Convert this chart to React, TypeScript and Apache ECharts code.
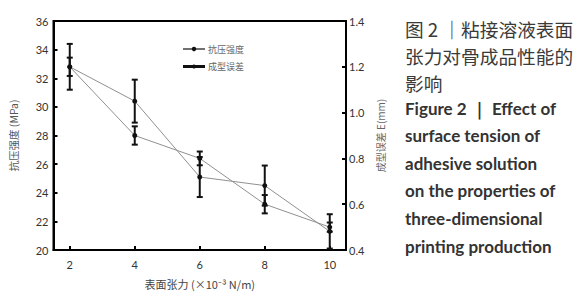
import React, { useEffect, useRef } from "react";
import * as echarts from "echarts";

const xValues = [2, 4, 6, 8, 10];
const xTicks = [2, 4, 6, 8, 10];
const strength = [32.8, 30.4, 25.1, 24.5, 21.3];
const strengthErr = [1.6, 1.5, 1.4, 1.4, 1.2];
const formError = [1.2, 0.9, 0.8, 0.6, 0.5];
const formErrorErr = [0.04, 0.04, 0.03, 0.04, 0.02];
const legendNames = ["抗压强度", "成型误差"];
const captionCn = ["图 2 ｜粘接溶液表面", "张力对骨成品性能的", "影响"];
const captionEn = [
  "Figure 2 ｜ Effect of",
  "surface tension of",
  "adhesive solution",
  "on the properties of",
  "three-dimensional",
  "printing production",
];

const errorRender = (params: any, api: any) => {
  const x = api.value(0);
  const lo = api.value(1);
  const hi = api.value(2);
  const p1 = api.coord([x, hi]);
  const p2 = api.coord([x, lo]);
  const w = 3;
  const st = { stroke: "#111", lineWidth: 2 };
  return {
    type: "group",
    children: [
      { type: "line", shape: { x1: p1[0], y1: p1[1], x2: p2[0], y2: p2[1] }, style: st },
      { type: "line", shape: { x1: p1[0] - w, y1: p1[1], x2: p1[0] + w, y2: p1[1] }, style: st },
      { type: "line", shape: { x1: p2[0] - w, y1: p2[1], x2: p2[0] + w, y2: p2[1] }, style: st },
    ],
  };
};

export default function App() {
  const ref = useRef<HTMLDivElement>(null);
  useEffect(() => {
    const chart = echarts.init(ref.current!, null, { renderer: "svg" });
    const axisFont = "Lato, 'Noto Sans', sans-serif";
    const cnFont = "'Noto Sans CJK SC', sans-serif";
    const graphics: any[] = [];
    // legend
    graphics.push({ type: "line", shape: { x1: 183, y1: 49, x2: 205, y2: 49 }, style: { stroke: "#111", lineWidth: 1.2 } });
    graphics.push({ type: "circle", shape: { cx: 194, cy: 49, r: 2.2 }, style: { fill: "#111" } });
    graphics.push({ type: "text", x: 208, y: 49, style: { text: legendNames[0], font: `9px ${cnFont}`, fill: "#666", verticalAlign: "middle" } });
    graphics.push({ type: "line", shape: { x1: 183, y1: 66.5, x2: 205, y2: 66.5 }, style: { stroke: "#111", lineWidth: 3 } });
    graphics.push({ type: "circle", shape: { cx: 194, cy: 66.5, r: 2 }, style: { fill: "#111" } });
    graphics.push({ type: "text", x: 208, y: 66.5, style: { text: legendNames[1], font: `9px ${cnFont}`, fill: "#666", verticalAlign: "middle" } });
    captionCn.forEach((t, i) => {
      graphics.push({ type: "text", x: 405, y: 28 + i * 27, style: { text: t, font: `18.7px ${cnFont}`, fill: "#3a3a3a", verticalAlign: "middle" } });
    });
    captionEn.forEach((t, i) => {
      graphics.push({ type: "text", x: 405, y: 108 + i * 27.6, style: { text: t, font: `bold 17px Lato, sans-serif`, fill: "#333", verticalAlign: "middle" } });
    });

    chart.setOption({
      animation: false,
      grid: { left: 52, top: 21, width: 294, height: 229, show: true, borderColor: "#000", borderWidth: 2 },
      xAxis: {
        type: "value",
        min: 1.5,
        max: 10.5,
        name: "表面张力 (×10⁻³ N/m)",
        nameLocation: "middle",
        nameGap: 28,
        nameTextStyle: { fontFamily: cnFont, fontSize: 11, color: "#444" },
        axisLine: { show: true, lineStyle: { color: "#000", width: 2 } },
        axisTick: { show: true, inside: true, length: 4, lineStyle: { color: "#000", width: 2 }, customValues: xTicks },
        axisLabel: { customValues: xTicks, margin: 9, fontSize: 11, color: "#333", fontFamily: axisFont },
        splitLine: { show: false },
      },
      yAxis: [
        {
          type: "value",
          min: 20,
          max: 36,
          interval: 2,
          name: "抗压强度 (MPa)",
          nameLocation: "middle",
          nameGap: 35,
          nameTextStyle: { fontFamily: cnFont, fontSize: 10.5, color: "#555" },
          axisLine: { show: true, lineStyle: { color: "#000", width: 2 } },
          axisTick: { show: true, inside: true, length: 4, lineStyle: { color: "#000", width: 2 } },
          axisLabel: { margin: 5, fontSize: 11, color: "#333", fontFamily: axisFont },
          splitLine: { show: false },
        },
        {
          type: "value",
          min: 0.4,
          max: 1.4,
          interval: 0.2,
          position: "right",
          name: "成型误差 E(mm)",
          nameLocation: "middle",
          nameGap: 25,
          nameRotate: 90,
          nameTextStyle: { fontFamily: cnFont, fontSize: 10, color: "#666" },
          axisLine: { show: true, lineStyle: { color: "#000", width: 2 } },
          axisTick: { show: true, inside: true, length: 4, lineStyle: { color: "#000", width: 2 } },
          axisLabel: { margin: 3, fontSize: 11, color: "#333", fontFamily: axisFont, formatter: (v: number) => v.toFixed(1) },
          splitLine: { show: false },
        },
      ],
      series: [
        {
          type: "line",
          name: legendNames[0],
          yAxisIndex: 0,
          data: xValues.map((x, i) => [x, strength[i]]),
          symbol: "circle",
          symbolSize: 5,
          itemStyle: { color: "#111" },
          lineStyle: { color: "#909090", width: 1 },
          z: 3,
        },
        {
          type: "line",
          name: legendNames[1],
          yAxisIndex: 1,
          data: xValues.map((x, i) => [x, formError[i]]),
          symbol: "circle",
          symbolSize: 5,
          itemStyle: { color: "#111" },
          lineStyle: { color: "#909090", width: 1 },
          z: 3,
        },
        {
          type: "custom",
          yAxisIndex: 0,
          renderItem: errorRender,
          encode: { x: 0, y: [1, 2] },
          data: xValues.map((x, i) => [x, strength[i] - strengthErr[i], strength[i] + strengthErr[i]]),
          z: 4,
        },
        {
          type: "custom",
          yAxisIndex: 1,
          renderItem: errorRender,
          encode: { x: 0, y: [1, 2] },
          data: xValues.map((x, i) => [x, formError[i] - formErrorErr[i], formError[i] + formErrorErr[i]]),
          z: 4,
        },
      ],
      graphic: graphics,
    });
    return () => chart.dispose();
  }, []);
  return <div ref={ref} style={{ width: 583, height: 300, position: "absolute", left: 0, top: 0 }} />;
}
